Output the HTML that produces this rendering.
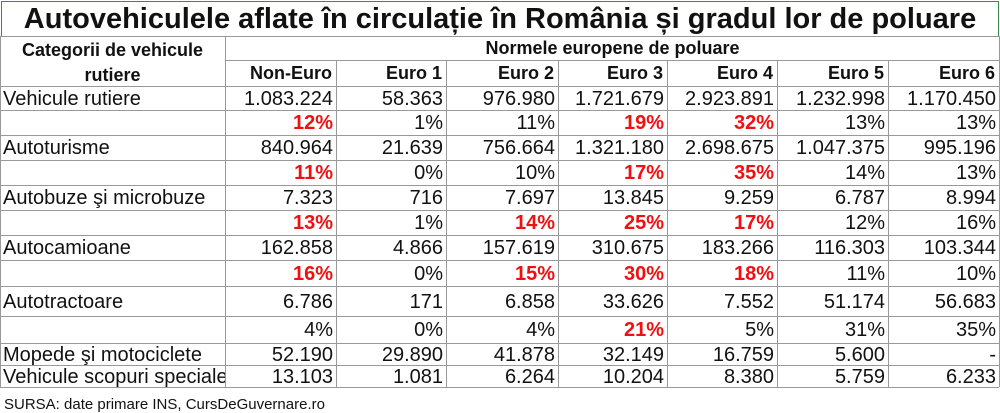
<!DOCTYPE html><html><head><meta charset="utf-8"><style>
body{margin:0;width:1000px;height:411px;background:#fff;font-family:"Liberation Sans",Arial,sans-serif;position:relative;overflow:hidden;color:#111}
.t{position:absolute;left:1px;top:1px;width:996px;height:34px;border:1px solid #3a8a4a;text-align:center;font-weight:bold;font-size:29px;line-height:34px}
.h{position:absolute;background:#999}
.c{position:absolute;font-size:20px;white-space:nowrap}
.r{text-align:right}
.red{color:#f01010;font-weight:bold}
.b{font-weight:bold;font-size:18px}
</style></head><body>
<div class="t">Autovehiculele aflate în circulație în România și gradul lor de poluare</div>
<div id="g"></div>
<div class="c b" style="left:0;width:225px;top:38px;text-align:center;line-height:25px">Categorii de vehicule<br>rutiere</div>
<div class="c b" style="left:225px;width:775px;top:37px;text-align:center;line-height:23px">Normele europene de poluare</div>
<div class="c" style="left:4px;top:396px;font-size:15px">SURSA: date primare INS, CursDeGuvernare.ro</div>
<script>
(function(){
var xs=[0,225,336,446,558,667,777,888,999];
var ys=[86,110,135,160,185,210,235,260,286,316,343,365,387];
var g='';
function L(x,y,w,h){g+='<div class="h" style="left:'+x+'px;top:'+y+'px;width:'+w+'px;height:'+h+'px"></div>';}
L(0,36,999,1);L(225,60,775,1);
for(var i=0;i<ys.length;i++)L(0,ys[i],999,1);
for(var i=0;i<xs.length;i++){if(i==0||i==1||i==8)L(xs[i],36,1,351);else L(xs[i],60,1,327);}
var hd=['Non-Euro','Euro 1','Euro 2','Euro 3','Euro 4','Euro 5','Euro 6'];
for(var j=0;j<7;j++)g+='<div class="c b r" style="left:'+xs[j+1]+'px;width:'+(xs[j+2]-xs[j+1]-4)+'px;top:61px;line-height:25px">'+hd[j]+'</div>';
var rows=[
['Vehicule rutiere','1.083.224','58.363','976.980','1.721.679','2.923.891','1.232.998','1.170.450'],
['','*12%','1%','11%','*19%','*32%','13%','13%'],
['Autoturisme','840.964','21.639','756.664','1.321.180','2.698.675','1.047.375','995.196'],
['','*11%','0%','10%','*17%','*35%','14%','13%'],
['Autobuze şi microbuze','7.323','716','7.697','13.845','9.259','6.787','8.994'],
['','*13%','1%','*14%','*25%','*17%','12%','16%'],
['Autocamioane','162.858','4.866','157.619','310.675','183.266','116.303','103.344'],
['','*16%','0%','*15%','*30%','*18%','11%','10%'],
['Autotractoare','6.786','171','6.858','33.626','7.552','51.174','56.683'],
['','4%','0%','4%','*21%','5%','31%','35%'],
['Mopede şi motociclete','52.190','29.890','41.878','32.149','16.759','5.600','-'],
['Vehicule scopuri speciale','13.103','1.081','6.264','10.204','8.380','5.759','6.233']];
for(var i=0;i<rows.length;i++){var tt=ys[i]+1,lh=ys[i+1]-ys[i];
 for(var j=0;j<8;j++){var v=rows[i][j],cl='c';if(v.charAt(0)=='*'){v=v.slice(1);cl+=' red';}
  if(j==0)g+='<div class="'+cl+'" style="left:3px;width:222px;overflow:hidden;top:'+tt+'px;line-height:'+lh+'px">'+v+'</div>';
  else g+='<div class="'+cl+' r" style="left:'+xs[j]+'px;width:'+(xs[j+1]-xs[j]-3)+'px;top:'+tt+'px;line-height:'+lh+'px">'+v+'</div>';}}
document.getElementById('g').innerHTML=g;
})();
</script>
</body></html>
